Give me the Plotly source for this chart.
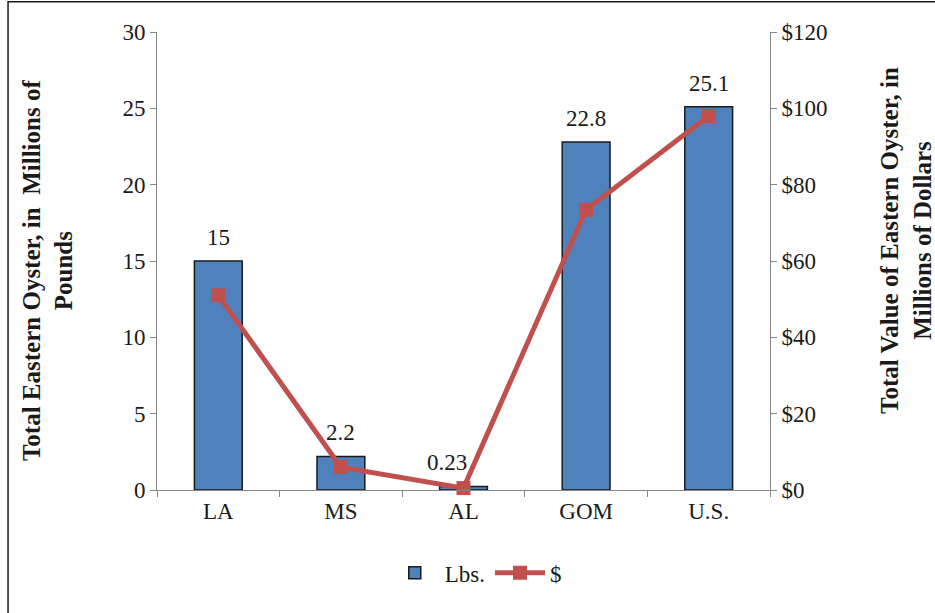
import plotly.graph_objects as go

regions = ["LA", "MS", "AL", "GOM", "U.S."]
pounds_millions = [15, 2.2, 0.23, 22.8, 25.1]
value_millions = [51, 6, 0.5, 73.4, 98]
pound_labels = ["15", "2.2", "0.23", "22.8", "25.1"]
left_ticks = [0, 5, 10, 15, 20, 25, 30]
right_ticks = [0, 20, 40, 60, 80, 100, 120]
right_tick_text = ["$0", "$20", "$40", "$60", "$80", "$100", "$120"]

FONT = "Liberation Serif, Times New Roman, serif"
TXT = "#1a1a1a"
AXIS_GRAY = "#868686"
TICK_SIZE = 23
TITLE_SIZE = 25

fig = go.Figure()
fig.add_trace(go.Bar(
    x=regions, y=pounds_millions, name="Lbs.",
    marker=dict(color="#4F81BD", line=dict(color=TXT, width=1.5)),
    width=0.39,
))
fig.add_trace(go.Scatter(
    x=regions, y=value_millions, name="$", yaxis="y2",
    mode="lines+markers",
    line=dict(color="#C0504D", width=5),
    marker=dict(symbol="square", size=14, color="#C0504D"),
    cliponaxis=False,
))

# value labels above each bar; the tiny AL bar's label sits a little left
# so the line marker does not cover it
label_xshift = {"AL": -17}
for cat, val, lab in zip(regions, pounds_millions, pound_labels):
    fig.add_annotation(x=cat, y=val, xref="x", yref="y", text=lab,
                       showarrow=False, yanchor="bottom", yshift=9,
                       xshift=label_xshift.get(cat, 0),
                       font=dict(family=FONT, size=TICK_SIZE, color=TXT))

fig.update_layout(
    width=935, height=613,
    margin=dict(l=157, r=165, t=32, b=123),
    paper_bgcolor="white", plot_bgcolor="white",
    font=dict(family=FONT, size=TICK_SIZE, color=TXT),
    showlegend=True,
    legend=dict(orientation="h", x=0.52, xanchor="center", y=-0.181, yanchor="middle",
                font=dict(family=FONT, size=TICK_SIZE, color=TXT),
                itemwidth=50, traceorder="normal"),
    xaxis=dict(type="category", showline=True, linecolor=AXIS_GRAY, linewidth=1,
               ticks="outside", tickson="boundaries", ticklen=6, tickcolor=AXIS_GRAY,
               tickfont=dict(family=FONT, size=TICK_SIZE, color=TXT), showgrid=False),
    yaxis=dict(range=[0, 30], tickvals=left_ticks, showline=True, linecolor=AXIS_GRAY,
               ticks="outside", ticklen=6, tickcolor=AXIS_GRAY, showgrid=False,
               zeroline=False, tickfont=dict(family=FONT, size=TICK_SIZE, color=TXT)),
    yaxis2=dict(range=[0, 120], tickvals=right_ticks, ticktext=right_tick_text,
                overlaying="y", side="right", showline=True, linecolor=AXIS_GRAY,
                ticks="outside", ticklen=6, tickcolor=AXIS_GRAY, showgrid=False,
                zeroline=False, tickfont=dict(family=FONT, size=TICK_SIZE, color=TXT)),
)

fig.add_annotation(
    text="Total Eastern Oyster, in  Millions of<br>Pounds",
    xref="paper", yref="paper", x=-0.178, y=0.48, xanchor="center", yanchor="middle",
    textangle=-90, showarrow=False,
    font=dict(family=FONT, size=TITLE_SIZE, color=TXT, weight="bold"),
)
fig.add_annotation(
    text="Total Value of Eastern Oyster, in<br>Millions of Dollars",
    xref="paper", yref="paper", x=1.222, y=0.544, xanchor="center", yanchor="middle",
    textangle=-90, showarrow=False,
    font=dict(family=FONT, size=TITLE_SIZE, color=TXT, weight="bold"),
)
# chart frame
fig.add_shape(type="rect", xref="paper", yref="paper",
              x0=-0.243, x1=1.5, y0=-0.6, y1=1.066,
              line=dict(color=TXT, width=1.5), layer="below")

fig.write_html("out.html")
